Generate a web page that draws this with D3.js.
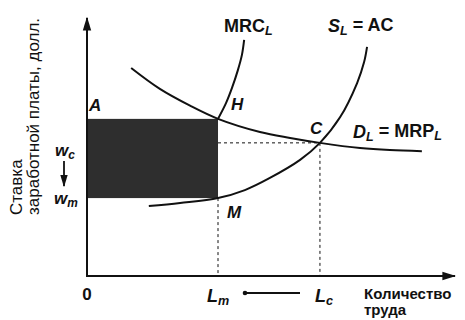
<!DOCTYPE html>
<html><head><meta charset="utf-8">
<script src="https://cdn.jsdelivr.net/npm/d3@7"></script>
<style>
body{margin:0;background:#fff;}
svg text{font-family:"Liberation Sans",Arial,sans-serif;fill:#111;}
</style></head>
<body>
<svg id="c" width="465" height="320"></svg>
<script>
// Data (arbitrary units: quantity 0..100, wage 0..100)
const demand = [[12.0,80.6],[19.8,72.5],[28.0,66.0],[35.6,60.9],[47.0,55.8],[55.2,53.5],[63.3,51.6],[74.2,49.6],[82.3,48.8],[91.0,48.4]];
const mrc = [[35.6,60.9],[37.8,67.1],[39.4,72.9],[41.0,79.8],[42.1,85.7],[42.7,91.5]];
const supply = [[16.8,27.1],[25.3,28.3],[35.6,30.2],[42.9,33.3],[49.7,38.0],[57.9,45.0],[63.3,51.6],[68.8,61.6],[73.4,74.8],[75.3,82.9],[76.1,88.8]];
const Lm = 35.6, Lc = 63.3;
const wc = 60.9, wm = 30.2, wC = 51.6;

const svg = d3.select("#c");
const x = d3.scaleLinear().domain([0,100]).range([87,455]);
const y = d3.scaleLinear().domain([0,100]).range([276,18]);

// shaded rectangle
svg.append("rect")
  .attr("x", x(0)).attr("y", y(wc))
  .attr("width", x(Lm)-x(0)).attr("height", y(wm)-y(wc))
  .attr("fill", "#2e2e2e");

// dotted guides
const dash = "3,3";
svg.append("line").attr("x1",x(Lm)).attr("x2",x(Lm)).attr("y1",y(wm)).attr("y2",y(0))
  .attr("stroke","#111").attr("stroke-width",1).attr("stroke-dasharray",dash);
svg.append("line").attr("x1",x(Lc)).attr("x2",x(Lc)).attr("y1",y(wC)).attr("y2",y(0))
  .attr("stroke","#111").attr("stroke-width",1).attr("stroke-dasharray",dash);
svg.append("line").attr("x1",x(Lm)).attr("x2",x(Lc)).attr("y1",y(wC)).attr("y2",y(wC))
  .attr("stroke","#111").attr("stroke-width",1).attr("stroke-dasharray",dash);

// axes
const defs = svg.append("defs");
defs.append("marker").attr("id","ah").attr("viewBox","0 0 10 10").attr("refX",9).attr("refY",5)
  .attr("markerWidth",7).attr("markerHeight",7).attr("orient","auto")
  .append("path").attr("d","M0,2 L10,5 L0,8 Z").attr("fill","#111");
svg.append("line").attr("x1",x(0)).attr("y1",y(0)).attr("x2",x(0)).attr("y2",y(100))
  .attr("stroke","#111").attr("stroke-width",2).attr("marker-end","url(#ah)");
svg.append("line").attr("x1",x(0)-1).attr("y1",y(0)).attr("x2",x(100)).attr("y2",y(0))
  .attr("stroke","#111").attr("stroke-width",2).attr("marker-end","url(#ah)");

// curves
const line = d3.line().x(d=>x(d[0])).y(d=>y(d[1])).curve(d3.curveCatmullRom.alpha(0.5));
[demand, mrc, supply].forEach(data=>{
  svg.append("path").attr("d", line(data)).attr("fill","none")
    .attr("stroke","#111").attr("stroke-width",2);
});

// labels
function lab(px, py, opts={}) {
  return svg.append("text").attr("x",px).attr("y",py)
    .attr("font-size",opts.size||17).attr("font-weight",opts.weight||"bold")
    .attr("font-style",opts.italic?"italic":"normal")
    .attr("text-anchor",opts.anchor||"start");
}
function sub(t, main, s, mItalic, sItalic, tail) {
  t.append("tspan").text(main).attr("font-style", mItalic?"italic":"normal");
  t.append("tspan").text(s).attr("font-size","0.7em").attr("dy","0.25em").attr("font-style", sItalic?"italic":"normal");
  if (tail) t.append("tspan").text(tail).attr("dy","-0.25em");
}
lab(89, 111, {italic:true}).text("A");
lab(231, 110, {italic:true}).text("H");
lab(310, 134, {italic:true}).text("C");
lab(227, 218, {italic:true}).text("M");
sub(lab(224, 32, {size:18}), "MRC", "L", false, true);
sub(lab(328, 32, {size:18}), "S", "L", true, true, " = AC");
{
  const t = lab(353, 138, {size:18});
  t.append("tspan").text("D").attr("font-style","italic");
  t.append("tspan").text("L").attr("font-size","0.7em").attr("dy","0.25em").attr("font-style","italic");
  t.append("tspan").text(" = MRP").attr("dy","-0.25em");
  t.append("tspan").text("L").attr("font-size","0.7em").attr("dy","0.25em").attr("font-style","italic");
}
sub(lab(55, 156, {italic:true}), "w", "c", true, true);
sub(lab(54, 204, {italic:true}), "w", "m", true, true);
svg.append("line").attr("x1",64).attr("x2",64).attr("y1",161).attr("y2",186)
  .attr("stroke","#111").attr("stroke-width",1.8).attr("marker-end","url(#ah)");

lab(x(0), 300, {anchor:"middle"}).text("0");
sub(lab(207, 302, {italic:true, size:18}), "L", "m", true, true);
sub(lab(315, 302, {italic:true, size:18}), "L", "c", true, true);
svg.append("line").attr("x1",300).attr("x2",245).attr("y1",293).attr("y2",293)
  .attr("stroke","#111").attr("stroke-width",1.8);
svg.append("circle").attr("cx",245).attr("cy",293).attr("r",2.3).attr("fill","#111");

lab(364, 299, {size:15, weight:"600"}).text("Количество");
lab(364, 315, {size:15, weight:"600"}).text("труда");

// y label
const yl = svg.append("text").attr("transform","translate(22,215) rotate(-90)")
  .attr("font-size",17).attr("font-weight","normal");
yl.append("tspan").attr("x",0).attr("y",0).text("Ставка");
yl.append("tspan").attr("x",0).attr("y",17).text("заработной платы, долл.");
</script>
</body></html>
